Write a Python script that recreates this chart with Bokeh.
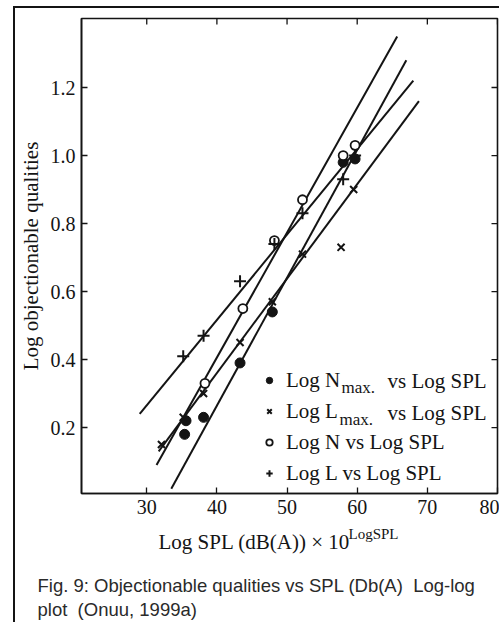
import math

from bokeh.plotting import figure
from bokeh.layouts import column
from bokeh.models import (Range1d, FixedTicker, Label, Legend, LegendItem,
                          PrintfTickFormatter)
from bokeh.embed import file_html
from bokeh.resources import INLINE

INK = "#141414"
SERIF = "Liberation Serif"
SANS = "Liberation Sans"

# Log SPL (x) against log objectionable quality (y), one pair of lists per series
nmax_spl = [35.4, 35.6, 38.1, 43.3, 47.9, 58.0, 59.7]
nmax_q = [0.18, 0.22, 0.23, 0.39, 0.54, 0.98, 0.99]

lmax_spl = [32.1, 35.2, 38.1, 43.3, 47.9, 52.2, 57.7, 59.5]
lmax_q = [0.15, 0.23, 0.30, 0.45, 0.57, 0.71, 0.73, 0.90]

n_spl = [38.3, 43.7, 48.2, 52.2, 58.0, 59.7]
n_q = [0.33, 0.55, 0.75, 0.87, 1.00, 1.03]

l_spl = [35.2, 38.1, 43.3, 48.2, 52.2, 58.0, 59.7]
l_q = [0.41, 0.47, 0.63, 0.74, 0.83, 0.93, 1.00]

# Straight-line fits: start and end of each line
nmax_fit_spl = [33.5, 67.0]
nmax_fit_q = [0.02, 1.28]
lmax_fit_spl = [31.7, 68.8]
lmax_fit_q = [0.13, 1.16]
n_fit_spl = [31.4, 65.7]
n_fit_q = [0.09, 1.35]
l_fit_spl = [29.0, 68.0]
l_fit_q = [0.24, 1.22]

x_ticks = [30, 40, 50, 60, 70, 80]
y_ticks = [0.2, 0.4, 0.6, 0.8, 1.0, 1.2]

x_lo, x_hi = 20.7, 80.0
y_lo, y_hi = 0.006, 1.403

p = figure(width=484, height=515, output_backend="svg", toolbar_location=None,
           x_range=Range1d(x_lo, x_hi), y_range=Range1d(y_lo, y_hi),
           min_border_left=62, min_border_right=2, min_border_top=10,
           min_border_bottom=30)
p.frame_align = False
p.title.visible = False
p.grid.visible = False
p.background_fill_color = "white"
p.border_fill_color = "white"
p.outline_line_color = INK
p.outline_line_width = 1.6

for ax in (p.xaxis[0], p.yaxis[0]):
    ax.axis_line_color = INK
    ax.axis_line_width = 1.6
    ax.major_tick_in = 6
    ax.major_tick_out = 0
    ax.major_tick_line_color = INK
    ax.major_tick_line_width = 1.3
    ax.minor_tick_line_color = None
    ax.major_label_text_font = SERIF
    ax.major_label_text_font_size = "20px"
    ax.major_label_text_color = INK
p.xaxis[0].ticker = FixedTicker(ticks=x_ticks)
p.yaxis[0].ticker = FixedTicker(ticks=y_ticks)
p.yaxis[0].formatter = PrintfTickFormatter(format="%.1f")
p.xaxis[0].major_label_standoff = 6
p.yaxis[0].major_label_standoff = 6
p.yaxis[0].axis_label = "Log objectionable qualities"
p.yaxis[0].axis_label_text_font = SERIF
p.yaxis[0].axis_label_text_font_size = "21px"
p.yaxis[0].axis_label_text_font_style = "normal"
p.yaxis[0].axis_label_text_color = INK
p.yaxis[0].axis_label_standoff = 5

# short inward ticks on the top and right edges of the frame
p.ray(x=x_ticks, y=[y_hi] * len(x_ticks), length=6, length_units="screen",
      angle=-math.pi / 2, line_color=INK, line_width=1.3)
p.ray(x=[x_hi] * len(y_ticks), y=y_ticks, length=6, length_units="screen",
      angle=math.pi, line_color=INK, line_width=1.3)

# fitted lines
for xs, ys in ((nmax_fit_spl, nmax_fit_q), (lmax_fit_spl, lmax_fit_q),
               (n_fit_spl, n_fit_q), (l_fit_spl, l_fit_q)):
    p.line(xs, ys, line_color=INK, line_width=2)

# data points
r_nmax = p.scatter(nmax_spl, nmax_q, marker="circle", size=10,
                   fill_color=INK, line_color=INK)
r_lmax = p.scatter(lmax_spl, lmax_q, marker="x", size=10,
                   line_color=INK, line_width=2)
r_n = p.scatter(n_spl, n_q, marker="circle", size=9, fill_color="white",
                line_color=INK, line_width=1.8)
r_l = p.scatter(l_spl, l_q, marker="cross", size=12,
                line_color=INK, line_width=2)

legend = Legend(items=[LegendItem(label="Log N", renderers=[r_nmax]),
                       LegendItem(label="Log L", renderers=[r_lmax]),
                       LegendItem(label="Log N vs Log SPL", renderers=[r_n]),
                       LegendItem(label="Log L vs Log SPL", renderers=[r_l])],
                location=(180, 6), padding=0, margin=0, spacing=3,
                glyph_width=16, glyph_height=28, label_height=28,
                label_standoff=9, border_line_color=None,
                background_fill_alpha=0, label_text_font=SERIF,
                label_text_font_size="21px", label_text_color=INK)
p.add_layout(legend)


def note(fig, text, x, y, size, font=SERIF, color=INK):
    fig.add_layout(Label(x=x, y=y, x_units="screen", y_units="screen",
                         text=text, text_font=font, text_font_size=size,
                         text_color=color, text_baseline="middle",
                         text_align="left"))


# subscripts and the rest of the first two legend rows
note(p, "max.", 260, 106, "17px")
note(p, "vs Log SPL", 306, 113, "21px")
note(p, "max.", 258, 74, "17px")
note(p, "vs Log SPL", 306, 81, "21px")

# strip under the plot: x axis title and the figure caption
cap = figure(width=484, height=99, output_backend="svg", toolbar_location=None,
             x_range=Range1d(0, 1), y_range=Range1d(0, 1),
             x_axis_type=None, y_axis_type=None, min_border=0)
cap.frame_align = False
cap.title.visible = False
cap.grid.visible = False
cap.outline_line_color = None
cap.background_fill_color = "white"
cap.border_fill_color = "white"

note(cap, "Log SPL (dB(A)) \u00d7 10", 143, 81, "21px")
note(cap, "LogSPL", 333, 89, "15px")
note(cap, "Fig. 9: Objectionable qualities vs SPL (Db(A)\u00a0 Log-log", 22, 37,
     "18.5px", SANS, "#2a2a2a")
note(cap, "plot\u00a0 (Onuu, 1999a)", 22, 13, "18.5px", SANS, "#2a2a2a")

page = column(p, cap, spacing=0, margin=(6, 0, 0, 13),
              styles={"border-left": "2px solid #141414",
                      "border-top": "2px solid #141414"})

open("out.html", "w").write(file_html(page, INLINE))
